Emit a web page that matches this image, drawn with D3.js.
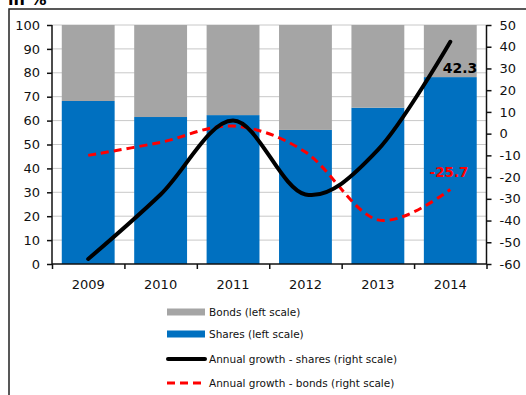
<!DOCTYPE html>
<html><head><meta charset="utf-8">
<script src="https://cdn.jsdelivr.net/npm/d3@7"></script>
<style>body{margin:0;background:#fff;}svg{display:block;font-family:"DejaVu Sans",sans-serif;}</style>
</head><body>
<svg id="c" width="526" height="395"></svg>
<script>
const years = ["2009","2010","2011","2012","2013","2014"];
const shares = [68.2, 61.5, 62.3, 56.1, 65.4, 78.2];
const bonds = shares.map(v => 100 - v);
const growthShares = [-57.7, -28, 6, -28, -7.5, 42.3];
const growthBonds = [-10, -4, 3.5, -8.5, -39.7, -25.7];
const leftTicks = d3.range(0, 101, 10);
const rightTicks = d3.range(-60, 51, 10);
const legendItems = ["Bonds (left scale)", "Shares (left scale)", "Annual growth - shares (right scale)", "Annual growth - bonds (right scale)"];

const svg = d3.select("#c");
const L = 52, R = 486.5, T = 25, B = 264;

// frame
svg.append("path").attr("d", `M9,395 L9,9 L530,9`).attr("fill","none").attr("stroke","#222").attr("stroke-width",1.5);
svg.append("text").attr("x", 8).attr("y", 5).attr("font-size", 16).attr("font-weight","bold").text("in %");

const x = d3.scaleBand().domain(years).range([L, R]).paddingInner(0.27).paddingOuter(0.135);
const yL = d3.scaleLinear().domain([0, 100]).range([B, T]);
const yR = d3.scaleLinear().domain([-60, 50]).range([B, T]);

// gridlines
svg.append("g").selectAll("line").data(leftTicks.filter(d => d > 0)).join("line")
  .attr("x1", L).attr("x2", R).attr("y1", d => yL(d)).attr("y2", d => yL(d))
  .attr("stroke", "#c8c8c8").attr("stroke-width", 1);

// bars
const g = svg.append("g");
g.selectAll("rect.s").data(years).join("rect").attr("class","s")
  .attr("x", d => x(d)).attr("width", x.bandwidth())
  .attr("y", (d,i) => yL(shares[i])).attr("height", (d,i) => yL(0) - yL(shares[i]))
  .attr("fill", "#0070c0");
g.selectAll("rect.b").data(years).join("rect").attr("class","b")
  .attr("x", d => x(d)).attr("width", x.bandwidth())
  .attr("y", (d,i) => yL(shares[i] + bonds[i])).attr("height", (d,i) => yL(shares[i]) - yL(shares[i] + bonds[i]))
  .attr("fill", "#a5a5a5");

// axes
const axL = svg.append("g").attr("transform", `translate(${L},0)`)
  .call(d3.axisLeft(yL).tickValues(leftTicks).tickSize(5).tickPadding(7).tickFormat(d => String(d)));
const axR = svg.append("g").attr("transform", `translate(${R},0)`)
  .call(d3.axisRight(yR).tickValues(rightTicks).tickSize(5).tickPadding(8).tickFormat(d => String(d)));
const xb = d3.scaleLinear().domain([0, years.length]).range([L, R]);
const axB = svg.append("g").attr("transform", `translate(0,${B})`)
  .call(d3.axisBottom(xb).tickValues(d3.range(0, years.length + 1)).tickSize(5).tickFormat(""));
svg.append("g").selectAll("text").data(years).join("text")
  .attr("x", d => x(d) + x.bandwidth()/2).attr("y", 289).attr("text-anchor","middle")
  .attr("font-size", 13).attr("fill","#111").text(d => d);
[axL, axR, axB].forEach(a => {
  a.select(".domain").attr("stroke","#111").attr("stroke-width",1.5);
  a.selectAll(".tick line").attr("stroke","#111").attr("stroke-width",1.5);
  a.selectAll(".tick text").attr("font-size", 13).attr("fill","#111").attr("font-family","DejaVu Sans");
});
axL.select(".domain").attr("d", `M-0,${B}V${T}`);
axR.select(".domain").attr("d", `M0,${B}V${T}`);
axB.select(".domain").attr("d", `M${L},0H${R}`);

// lines
const cx = d => x(d) + x.bandwidth()/2;
const lineS = d3.line().x((d,i) => cx(years[i])).y(d => yR(d)).curve(d3.curveCardinal);
svg.append("path").attr("d", lineS(growthBonds)).attr("fill","none")
  .attr("stroke","#ff0000").attr("stroke-width",3).attr("stroke-dasharray","8,5");
svg.append("path").attr("d", lineS(growthShares)).attr("fill","none")
  .attr("stroke","#000").attr("stroke-width",4).attr("stroke-linecap","round");

// value labels
svg.append("text").attr("x", 460).attr("y", 73).attr("text-anchor","middle")
  .attr("font-size", 14).attr("font-weight","bold").attr("fill","#000").text(growthShares[5].toFixed(1));
svg.append("text").attr("x", 449).attr("y", 177).attr("text-anchor","middle")
  .attr("font-size", 13.5).attr("font-weight","bold").attr("fill","#ff0000").text(growthBonds[5].toFixed(1));

// legend
const ly = [312, 334, 359, 383];
const lg = svg.append("g");
lg.append("rect").attr("x",167).attr("y",ly[0]-3.5).attr("width",38).attr("height",7).attr("fill","#a5a5a5");
lg.append("rect").attr("x",167).attr("y",ly[1]-3.5).attr("width",38).attr("height",7).attr("fill","#0070c0");
lg.append("line").attr("x1",168).attr("x2",205).attr("y1",ly[2]).attr("y2",ly[2]).attr("stroke","#000").attr("stroke-width",4).attr("stroke-linecap","round");
lg.append("line").attr("x1",167).attr("x2",205).attr("y1",ly[3]).attr("y2",ly[3]).attr("stroke","#ff0000").attr("stroke-width",3).attr("stroke-dasharray","8,5");
lg.selectAll("text").data(legendItems).join("text")
  .attr("x", 209).attr("y", (d,i) => ly[i] + 4).attr("font-size", 10.5).attr("fill","#111").text(d => d);
</script>
</body></html>
